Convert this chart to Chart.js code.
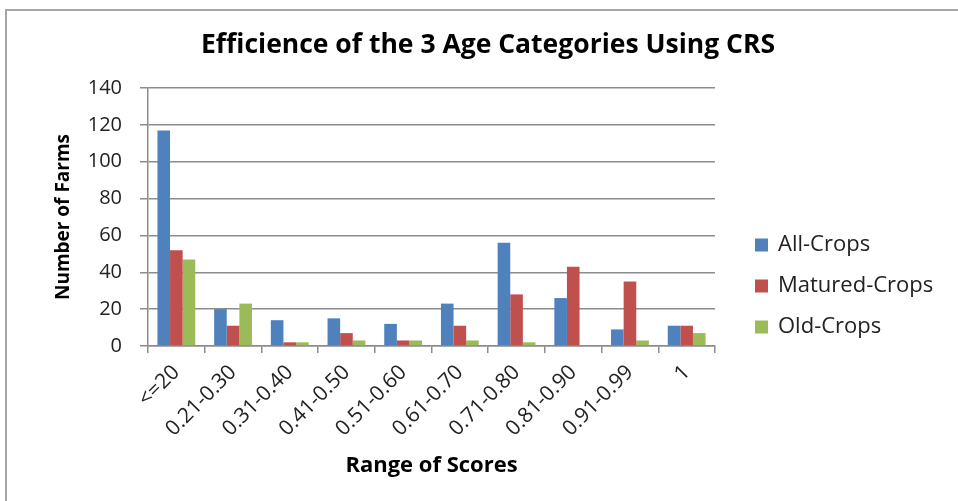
<!DOCTYPE html>
<html>
<head>
<meta charset="utf-8">
<script src="https://cdn.jsdelivr.net/npm/chart.js@4.4.0/dist/chart.umd.min.js"></script>
<style>
  html, body { margin: 0; padding: 0; background: #fff; overflow: hidden; }
  #wrap { position: relative; width: 958px; height: 501px; }
  #frame { position: absolute; left: 5px; top: 9px; width: 1000px; height: 600px;
           border-left: 2px solid #a6a6a6; border-top: 2px solid #a6a6a6; }
  canvas { position: absolute; left: 0; top: 0; }
</style>
</head>
<body>
<div id="wrap">
  <div id="frame"></div>
  <canvas id="chart" width="958" height="501"></canvas>
</div>
<script>
const categories = ['<=20', '0.21-0.30', '0.31-0.40', '0.41-0.50', '0.51-0.60',
                    '0.61-0.70', '0.71-0.80', '0.81-0.90', '0.91-0.99', '1'];
const allCrops     = [117, 20, 14, 15, 12, 23, 56, 26, 9, 11];
const maturedCrops = [52, 11, 2, 7, 3, 11, 28, 43, 35, 11];
const oldCrops     = [47, 23, 2, 3, 3, 3, 2, 0, 3, 7];
const yTicks = [0, 20, 40, 60, 80, 100, 120, 140];

const FONT = 'Open Sans';
const gridGrey = '#8c8c8c';

// legend drawn at the right, like the Excel original
const sideLegend = {
  id: 'sideLegend',
  afterDraw(chart) {
    const c = chart.ctx;
    c.save();
    c.font = '22px "' + FONT + '"';
    c.textBaseline = 'middle';
    chart.data.datasets.forEach((ds, i) => {
      const y = 245 + i * 41;
      c.fillStyle = ds.backgroundColor;
      c.fillRect(755, y - 6.5, 13, 13);
      c.fillStyle = '#222';
      c.fillText(ds.label, 778, y);
    });
    c.restore();
  }
};

const ctx = document.getElementById('chart').getContext('2d');
new Chart(ctx, {
  type: 'bar',
  data: {
    labels: categories,
    datasets: [
      { label: 'All-Crops', data: allCrops, backgroundColor: '#4F81BD' },
      { label: 'Matured-Crops', data: maturedCrops, backgroundColor: '#C0504D' },
      { label: 'Old-Crops', data: oldCrops, backgroundColor: '#9BBB59' }
    ]
  },
  options: {
    responsive: false,
    animation: false,
    categoryPercentage: 0.667,
    barPercentage: 1.0,
    layout: { padding: { left: 18, right: 0, top: 0, bottom: 0 } },
    plugins: {
      legend: { display: false },
      tooltip: { enabled: false },
      title: {
        display: true,
        text: 'Efficience of the 3 Age Categories Using CRS',
        color: '#000',
        font: { family: FONT, size: 26.5, weight: 'bold' },
        padding: { top: 30, bottom: 26.2 }
      }
    },
    scales: {
      x: {
        grid: { drawOnChartArea: false, tickLength: 7, color: gridGrey, lineWidth: 1.5 },
        border: { color: gridGrey, width: 1.5 },
        ticks: { minRotation: 45, maxRotation: 45, color: '#222', padding: 7,
                 font: { family: FONT, size: 21 } },
        title: { display: true, text: 'Range of Scores', color: '#000',
                 font: { family: FONT, size: 22, weight: 'bold' },
                 padding: { top: 0, bottom: 22 } },
        afterFit: s => { s.height = 155; }
      },
      y: {
        min: 0,
        max: 140,
        afterBuildTicks: s => { s.ticks = yTicks.map(v => ({ value: v })); },
        grid: { color: gridGrey, lineWidth: 1.5, tickLength: 8 },
        border: { color: gridGrey, width: 1.5 },
        ticks: { color: '#222', padding: 18, font: { family: FONT, size: 20 } },
        title: { display: true, text: 'Number of Farms', color: '#000',
                 font: { family: FONT, size: 19, weight: 'bold' },
                 padding: { top: 34 } },
        afterFit: s => { s.width = 130; }
      },
      // empty box on the right that keeps room for the legend
      side: {
        position: 'right',
        grid: { display: false },
        border: { display: false },
        ticks: { display: false },
        afterFit: s => { s.width = 243; }
      }
    }
  },
  plugins: [sideLegend]
});
</script>
</body>
</html>
